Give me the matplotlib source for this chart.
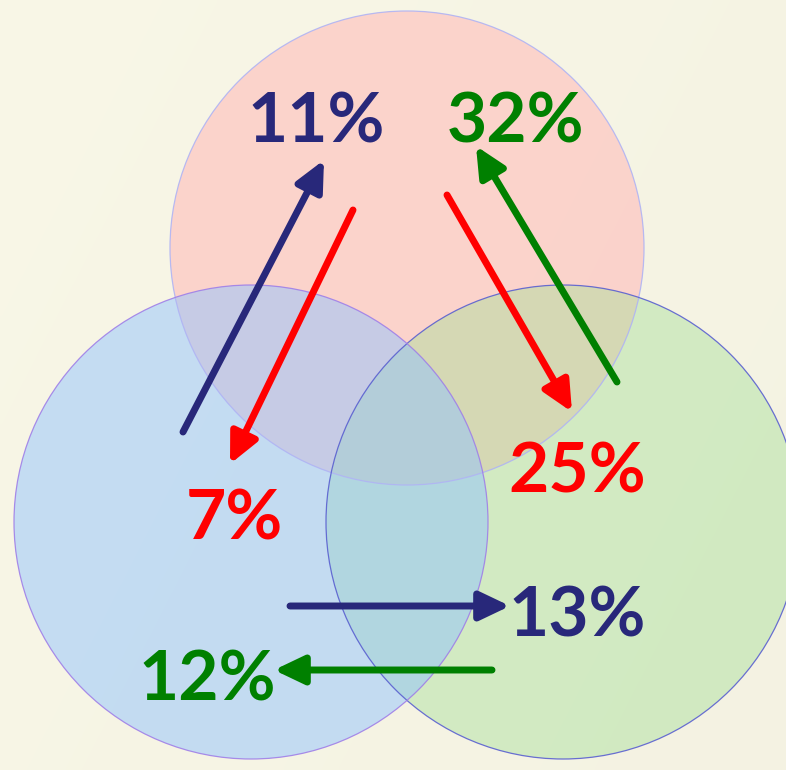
import matplotlib
matplotlib.use("Agg")
import matplotlib.pyplot as plt
from matplotlib.patches import Circle, FancyArrowPatch
import numpy as np

# Data
values = [11, 32, 25, 7, 13, 12]
label_colors = ["#28287a", "#008000", "#ff0000", "#ff0000", "#28287a", "#008000"]

# Layout (pixel coords, origin top-left)
label_pos = [(316, 123), (515, 123), (577, 473), (234, 520), (577, 617), (207, 681)]
# drawing order: pink (top), green (right), blue (left)
circle_centers = [(407, 248), (563, 522), (251, 522)]
circle_radius = 237
circle_fill = ["#ffbdbb", "#a8e09a", "#92c4ff"]
circle_alpha = [0.6, 0.45, 0.5]
circle_edge = ["#b0b4f4", "#5a60d0", "#a080e8"]

arrows = [  # start, end, color
    ((183, 432), (324, 160), "#28287a"),
    ((353, 210), (230, 464), "#ff0000"),
    ((447, 195), (572, 412), "#ff0000"),
    ((617, 382), (476, 146), "#008000"),
    ((290, 606), (510, 606), "#28287a"),
    ((492, 670), (274, 670), "#008000"),
]

W, H = 786, 770
fig = plt.figure(figsize=(W / 100, H / 100), dpi=100)
ax = fig.add_axes([0, 0, 1, 1])
ax.set_xlim(0, W)
ax.set_ylim(H, 0)
ax.set_aspect("equal")
ax.axis("off")

# background: soft cream gradient
yy, xx = np.mgrid[0:H:4, 0:W:4]
base = np.array([0.975, 0.968, 0.905])
shade = 0.02 * (xx / W) + 0.01 * (yy / H)
img = np.ones(yy.shape + (3,)) * base
img -= (shade * 0.6)[..., None]
ax.imshow(img, extent=[0, W, H, 0], zorder=0, interpolation="bilinear")

for (cx, cy), fc, a in zip(circle_centers, circle_fill, circle_alpha):
    ax.add_patch(Circle((cx, cy), circle_radius, facecolor=fc, alpha=a,
                        edgecolor="none", zorder=1))
for (cx, cy), ec in zip(circle_centers, circle_edge):
    ax.add_patch(Circle((cx, cy), circle_radius, facecolor="none",
                        edgecolor=ec, lw=0.9, alpha=0.9, zorder=2))

for (s, e, c) in arrows:
    ax.add_patch(FancyArrowPatch(s, e, arrowstyle="-|>,head_length=1.3,head_width=0.62",
                                 mutation_scale=14, lw=5.0, color=c,
                                 shrinkA=0, shrinkB=0, zorder=3))

for v, (x, y), c in zip(values, label_pos, label_colors):
    ax.text(x, y, f"{v}%", color=c, fontsize=50, fontweight="bold",
            family=["Lato", "DejaVu Sans"], ha="center", va="center", zorder=4)

fig.savefig("out.png", dpi=100)
